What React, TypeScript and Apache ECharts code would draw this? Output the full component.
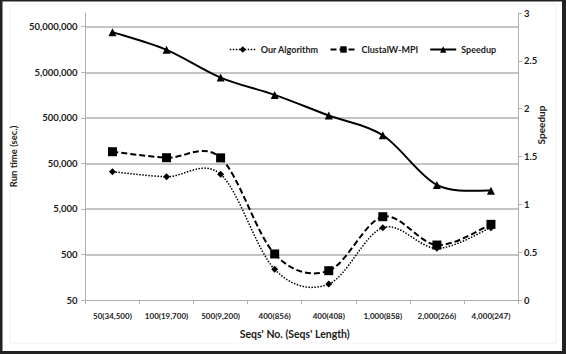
import React, { useEffect, useRef } from "react";
import * as echarts from "echarts";

const categories = [
  "50(34,500)",
  "100(19,700)",
  "500(9,200)",
  "400(856)",
  "400(408)",
  "1,000(858)",
  "2,000(266)",
  "4,000(247)",
];
const ourAlgorithm = [32800, 25500, 28700, 236, 112, 1940, 682, 1940];
const clustalW = [90000, 66500, 66000, 512, 220, 3370, 805, 2290];
const speedup = [2.8, 2.615, 2.325, 2.144, 1.928, 1.722, 1.203, 1.143];
const runtimeMin = 50;
const runtimeMax = 100000000;

const FONT = "Lato, 'Open Sans', sans-serif";

// runtime axis: logarithmic, decades counted from 50
const toLog = (v: number) => Math.log10(v / runtimeMin);

// Excel-like smoothed curve (Catmull-Rom through points), drawn with the axes' coords
function smoothCurve(name: string, values: number[], yAxisIndex: number, lineWidth: number, lineDash: number[] | null) {
  const n = values.length;
  return {
    name,
    type: "custom",
    coordinateSystem: "cartesian2d",
    yAxisIndex,
    silent: true,
    z: 1,
    data: values.map((v, i) => [i, v]),
    renderItem: (params: any, api: any) => {
      const i = params.dataIndexInside;
      if (i >= n - 1) return null;
      const pt = (k: number) => {
        const kk = Math.max(0, Math.min(n - 1, k));
        return api.coord([api.value(0, kk), api.value(1, kk)]);
      };
      const p0 = pt(i - 1);
      const p1 = pt(i);
      const p2 = pt(i + 1);
      const p3 = pt(i + 2);
      const t = 1 / 6;
      return {
        type: "bezierCurve",
        shape: {
          x1: p1[0],
          y1: p1[1],
          x2: p2[0],
          y2: p2[1],
          cpx1: p1[0] + (p2[0] - p0[0]) * t,
          cpy1: p1[1] + (p2[1] - p0[1]) * t,
          cpx2: p2[0] - (p3[0] - p1[0]) * t,
          cpy2: p2[1] - (p3[1] - p1[1]) * t,
        },
        style: { stroke: "#000", fill: "none", lineWidth, lineDash: lineDash || undefined },
      };
    },
  };
}

export default function App() {
  const ref = useRef<HTMLDivElement>(null);
  useEffect(() => {
    if (!ref.current) return;
    const chart = echarts.init(ref.current, undefined, { renderer: "svg" });
    const gray = "#b0b0b0";
    const ourDash = [1.5, 1.5];
    const clDash = [6, 3];
    chart.setOption({
      animation: false,
      backgroundColor: "#ffffff",
      grid: { left: 72, right: 48, top: 13, bottom: 54 },
      legend: {
        left: 224,
        top: 40,
        itemWidth: 26,
        itemHeight: 8,
        itemGap: 11,
        textStyle: { fontFamily: FONT, fontWeight: "bold", fontSize: 9, color: "#1a1a1a" },
        data: [
          { name: "Our Algorithm", lineStyle: { opacity: 1, width: 1.5, type: ourDash, color: "#000" } },
          { name: "ClustalW-MPI", lineStyle: { opacity: 1, width: 2, type: clDash, color: "#000" } },
          { name: "Speedup", lineStyle: { opacity: 1, width: 2, type: "solid", color: "#000" } },
        ],
      },
      xAxis: {
        type: "category",
        data: categories,
        boundaryGap: true,
        axisLine: { lineStyle: { color: gray, width: 1 } },
        axisTick: { show: true, length: 4, lineStyle: { color: gray } },
        axisLabel: { interval: 0, fontFamily: FONT, fontWeight: "bold", fontSize: 8, color: "#1a1a1a", margin: 12 },
        name: "Seqs' No. (Seqs' Length)",
        nameLocation: "middle",
        nameGap: 28,
        nameTextStyle: { fontFamily: FONT, fontWeight: "bold", fontSize: 10.5, color: "#1a1a1a", padding: [0, 14, 0, 0] },
      },
      yAxis: [
        {
          type: "value",
          min: 0,
          max: toLog(runtimeMax),
          interval: 1,
          axisLine: { show: true, lineStyle: { color: gray } },
          axisTick: { show: true, length: 4, lineStyle: { color: gray } },
          splitLine: { show: true, showMaxLine: false, showMinLine: false, lineStyle: { color: gray, width: 1.5 } },
          axisLabel: {
            fontFamily: FONT,
            fontWeight: "bold",
            fontSize: 9.5,
            color: "#1a1a1a",
            margin: 8,
            showMaxLabel: false,
            formatter: (v: number) => {
              if (Math.abs(v - Math.round(v)) > 1e-6) return "";
              return Math.round(runtimeMin * Math.pow(10, Math.round(v))).toLocaleString("en-US");
            },
          },
          name: "Run time (sec.)",
          nameLocation: "middle",
          nameRotate: 90,
          nameGap: 47,
          nameTextStyle: { fontFamily: FONT, fontWeight: "bold", fontSize: 9.5, color: "#1a1a1a" },
        },
        {
          type: "value",
          min: 0,
          max: 3,
          interval: 0.5,
          position: "right",
          axisLine: { show: true, lineStyle: { color: gray } },
          axisTick: { show: true, length: 4, lineStyle: { color: gray } },
          splitLine: { show: false },
          axisLabel: { fontFamily: FONT, fontWeight: "bold", fontSize: 9.5, color: "#1a1a1a", margin: 6 },
        },
      ],
      graphic: [
        {
          type: "text",
          x: 541,
          y: 125,
          rotation: Math.PI / 2,
          style: {
            text: "Speedup",
            align: "center",
            verticalAlign: "middle",
            font: `bold 10px ${FONT}`,
            fill: "#1a1a1a",
          },
        },
        { type: "rect", shape: { x: 10, y: 4, width: 546, height: 339 }, style: { fill: "none", stroke: "#f2f2f2", lineWidth: 1 } },
        { type: "rect", shape: { x: 0, y: 0, width: 566, height: 1.5 }, style: { fill: "#222" } },
        { type: "rect", shape: { x: 0, y: 0, width: 2.5, height: 354 }, style: { fill: "#222" } },
        { type: "rect", shape: { x: 562, y: 0, width: 4, height: 354 }, style: { fill: "#222" } },
        { type: "rect", shape: { x: 0, y: 351, width: 566, height: 3 }, style: { fill: "#222" } },
      ],
      series: [
        {
          name: "Our Algorithm",
          type: "line",
          yAxisIndex: 0,
          data: ourAlgorithm.map(toLog),
          symbol: "diamond",
          symbolSize: 7,
          z: 3,
          itemStyle: { color: "#000" },
          lineStyle: { color: "#000", width: 1.5, type: ourDash, opacity: 0 },
        },
        {
          name: "ClustalW-MPI",
          type: "line",
          yAxisIndex: 0,
          data: clustalW.map(toLog),
          symbol: "rect",
          symbolSize: 9,
          z: 3,
          itemStyle: { color: "#000" },
          lineStyle: { color: "#000", width: 2, type: clDash, opacity: 0 },
        },
        {
          name: "Speedup",
          type: "line",
          yAxisIndex: 1,
          data: speedup,
          symbol: "triangle",
          symbolSize: 8,
          z: 3,
          itemStyle: { color: "#000" },
          lineStyle: { color: "#000", width: 2, opacity: 0 },
        },
        smoothCurve("Our Algorithm curve", ourAlgorithm.map(toLog), 0, 1.5, ourDash),
        smoothCurve("ClustalW-MPI curve", clustalW.map(toLog), 0, 2, clDash),
        smoothCurve("Speedup curve", speedup, 1, 2, null),
      ],
    });
    return () => chart.dispose();
  }, []);
  return (
    <div style={{ position: "fixed", left: 0, top: 0, width: 566, height: 354 }}>
      <div ref={ref} style={{ width: 566, height: 354 }} />
    </div>
  );
}
